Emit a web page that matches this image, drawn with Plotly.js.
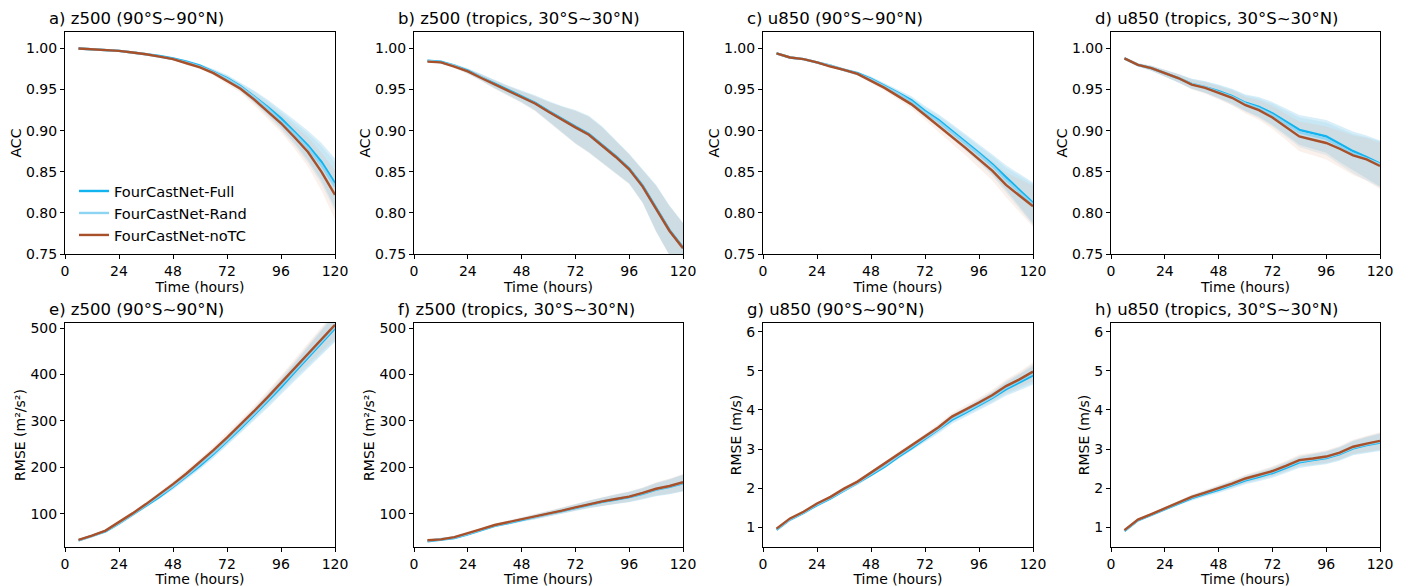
<!DOCTYPE html>
<html>
<head>
<meta charset="utf-8">
<script src="https://cdn.plot.ly/plotly-3.0.1.min.js"></script>
<style>html,body{margin:0;padding:0;background:#fff;}#chart{width:1413px;height:587px;}</style>
</head>
<body>
<div id="chart"></div>
<script>
// ---------- data ----------
const hours = [6,12,18,24,30,36,42,48,54,60,66,72,78,84,90,96,102,108,114,120];
const xTicks = [0,24,48,72,96,120];
const seriesNames = ['FourCastNet-Full','FourCastNet-Rand','FourCastNet-noTC'];

const panelTitles = ['a) z500 (90°S~90°N)','b) z500 (tropics, 30°S~30°N)','c) u850 (90°S~90°N)','d) u850 (tropics, 30°S~30°N)',
                     'e) z500 (90°S~90°N)','f) z500 (tropics, 30°S~30°N)','g) u850 (90°S~90°N)','h) u850 (tropics, 30°S~30°N)'];
const yTitles = ['ACC','ACC','ACC','ACC','RMSE (m²/s²)','RMSE (m²/s²)','RMSE (m/s)','RMSE (m/s)'];

// a) ACC z500 global
const accZ500G_full = [1.000,0.999,0.998,0.997,0.995,0.993,0.991,0.988,0.984,0.979,0.972,0.964,0.954,0.942,0.929,0.915,0.899,0.882,0.862,0.836];
const accZ500G_rand = [1.000,0.999,0.998,0.997,0.995,0.993,0.990,0.987,0.983,0.978,0.971,0.963,0.953,0.941,0.927,0.912,0.896,0.879,0.858,0.832];
const accZ500G_notc = [1.000,0.999,0.998,0.997,0.995,0.993,0.990,0.987,0.982,0.977,0.970,0.961,0.951,0.938,0.924,0.909,0.892,0.874,0.850,0.822];
const accZ500G_spread = [0,0,0,0,0,0,0.001,0.001,0.002,0.002,0.003,0.004,0.005,0.007,0.009,0.011,0.014,0.018,0.023,0.030];
// b) ACC z500 tropics
const accZ500T_full = [0.985,0.984,0.979,0.973,0.965,0.957,0.949,0.942,0.934,0.924,0.914,0.905,0.896,0.883,0.869,0.854,0.833,0.806,0.779,0.758];
const accZ500T_rand = [0.985,0.983,0.979,0.972,0.965,0.956,0.948,0.941,0.933,0.923,0.913,0.904,0.895,0.882,0.868,0.853,0.832,0.805,0.778,0.757];
const accZ500T_notc = [0.984,0.983,0.978,0.972,0.964,0.956,0.948,0.941,0.933,0.923,0.913,0.904,0.895,0.882,0.868,0.853,0.832,0.805,0.778,0.757];
const accZ500T_spread = [0.001,0.001,0.002,0.003,0.004,0.005,0.006,0.007,0.009,0.012,0.016,0.020,0.022,0.022,0.020,0.018,0.020,0.028,0.030,0.030];
// c) ACC u850 global
const accU850G_full = [0.994,0.989,0.987,0.983,0.979,0.974,0.970,0.963,0.955,0.946,0.937,0.924,0.913,0.900,0.887,0.873,0.859,0.843,0.828,0.812];
const accU850G_rand = [0.994,0.989,0.987,0.983,0.979,0.974,0.969,0.962,0.954,0.945,0.935,0.922,0.911,0.898,0.885,0.871,0.857,0.840,0.825,0.810];
const accU850G_notc = [0.994,0.989,0.987,0.983,0.978,0.974,0.969,0.961,0.952,0.942,0.932,0.919,0.906,0.892,0.879,0.865,0.851,0.834,0.821,0.808];
const accU850G_spread = [0,0,0.001,0.001,0.001,0.002,0.002,0.003,0.003,0.004,0.005,0.006,0.007,0.008,0.009,0.010,0.012,0.015,0.020,0.025];
// d) ACC u850 tropics
const accU850T_full = [0.988,0.980,0.976,0.970,0.964,0.957,0.953,0.948,0.942,0.934,0.929,0.921,0.911,0.901,0.897,0.893,0.884,0.875,0.868,0.860];
const accU850T_rand = [0.988,0.980,0.976,0.970,0.964,0.957,0.953,0.947,0.941,0.933,0.927,0.919,0.909,0.898,0.894,0.890,0.881,0.872,0.866,0.859];
const accU850T_notc = [0.988,0.980,0.976,0.970,0.964,0.956,0.952,0.946,0.940,0.931,0.925,0.916,0.905,0.893,0.889,0.885,0.878,0.870,0.865,0.857];
const accU850T_spread = [0.001,0.002,0.003,0.004,0.005,0.006,0.007,0.008,0.009,0.010,0.012,0.014,0.016,0.018,0.019,0.020,0.022,0.024,0.026,0.028];
// e) RMSE z500 global
const rmseZ500G_full = [43,52,62,79,98,117,137,158,180,204,229,256,284,313,342,373,405,437,468,500];
const rmseZ500G_rand = [43,52,63,80,99,119,139,160,183,207,232,259,287,316,346,377,409,441,472,503];
const rmseZ500G_notc = [44,53,64,82,101,121,142,164,187,211,237,264,292,321,351,382,414,446,476,507];
const rmseZ500G_spread = [1,1,2,2,3,4,5,6,7,8,9,10,11,12,14,16,19,22,26,30];
// f) RMSE z500 tropics
const rmseZ500T_full = [41,44,48,56,65,74,80,87,93,100,106,113,120,126,131,136,143,152,158,166];
const rmseZ500T_rand = [42,45,49,57,66,75,81,88,93,100,107,114,121,127,132,137,144,153,159,167];
const rmseZ500T_notc = [43,45,50,58,67,76,82,89,94,101,107,114,121,127,132,137,145,154,160,168];
const rmseZ500T_spread = [1,1,2,2,3,3,4,4,5,5,6,7,8,9,10,11,12,14,16,18];
// g) RMSE u850 global
const rmseU850G_full = [0.94,1.20,1.37,1.57,1.74,1.94,2.12,2.34,2.55,2.80,3.02,3.26,3.49,3.75,3.93,4.12,4.31,4.53,4.71,4.88];
const rmseU850G_rand = [0.95,1.21,1.38,1.59,1.76,1.96,2.14,2.37,2.58,2.83,3.05,3.29,3.52,3.79,3.96,4.15,4.34,4.57,4.74,4.93];
const rmseU850G_notc = [0.97,1.23,1.40,1.61,1.78,1.99,2.17,2.40,2.62,2.87,3.08,3.32,3.56,3.83,4.00,4.19,4.38,4.61,4.78,4.98];
const rmseU850G_spread = [0.01,0.01,0.02,0.02,0.03,0.03,0.04,0.04,0.05,0.06,0.07,0.08,0.09,0.10,0.11,0.12,0.14,0.17,0.20,0.24];
// h) RMSE u850 tropics
const rmseU850T_full = [0.91,1.18,1.32,1.47,1.62,1.75,1.86,1.96,2.08,2.20,2.29,2.39,2.52,2.66,2.72,2.77,2.87,3.02,3.10,3.17];
const rmseU850T_rand = [0.92,1.19,1.33,1.48,1.63,1.77,1.88,1.98,2.10,2.23,2.32,2.42,2.55,2.69,2.74,2.79,2.89,3.04,3.12,3.19];
const rmseU850T_notc = [0.93,1.20,1.34,1.49,1.64,1.78,1.89,2.00,2.12,2.25,2.34,2.44,2.57,2.72,2.76,2.81,2.91,3.06,3.14,3.21];
const rmseU850T_spread = [0.01,0.02,0.03,0.04,0.05,0.06,0.07,0.08,0.09,0.10,0.11,0.12,0.13,0.14,0.15,0.16,0.17,0.18,0.20,0.22];

const yRanges = [[0.75,1.02],[0.75,1.02],[0.75,1.02],[0.75,1.02],[28.6,511],[28.6,511],[0.5,6.22],[0.5,6.22]];
const yTickVals = [[0.75,0.80,0.85,0.90,0.95,1.00],[0.75,0.80,0.85,0.90,0.95,1.00],[0.75,0.80,0.85,0.90,0.95,1.00],[0.75,0.80,0.85,0.90,0.95,1.00],
                   [100,200,300,400,500],[100,200,300,400,500],[1,2,3,4,5,6],[1,2,3,4,5,6]];
const yTickText = [['0.75','0.80','0.85','0.90','0.95','1.00'],['0.75','0.80','0.85','0.90','0.95','1.00'],['0.75','0.80','0.85','0.90','0.95','1.00'],['0.75','0.80','0.85','0.90','0.95','1.00'],
                   ['100','200','300','400','500'],['100','200','300','400','500'],['1','2','3','4','5','6'],['1','2','3','4','5','6']];

// ---------- build ----------
const panels = [
  [accZ500G_full, accZ500G_rand, accZ500G_notc, accZ500G_spread],
  [accZ500T_full, accZ500T_rand, accZ500T_notc, accZ500T_spread],
  [accU850G_full, accU850G_rand, accU850G_notc, accU850G_spread],
  [accU850T_full, accU850T_rand, accU850T_notc, accU850T_spread],
  [rmseZ500G_full, rmseZ500G_rand, rmseZ500G_notc, rmseZ500G_spread],
  [rmseZ500T_full, rmseZ500T_rand, rmseZ500T_notc, rmseZ500T_spread],
  [rmseU850G_full, rmseU850G_rand, rmseU850G_notc, rmseU850G_spread],
  [rmseU850T_full, rmseU850T_rand, rmseU850T_notc, rmseU850T_spread]
];

const W = 1413, H = 587;
const colPx = [[65,335],[414,683],[763,1033],[1111,1380]];
const rowPx = [[32,254],[323,547]];
const lineColors = ['#12b4ef','#8dd3f2','#a8502a'];
const bandColors = ['rgba(90,185,225,0.24)','rgba(150,210,240,0.24)','rgba(230,170,140,0.17)'];
const lineWidths = [2.4,2.4,2.4];

const font = 'DejaVu Sans, sans-serif';
const traces = [];
const layout = {
  width: W, height: H,
  margin: {l:0,r:0,t:0,b:0},
  paper_bgcolor: '#fff', plot_bgcolor: '#fff',
  font: {family: font, color: '#000', size: 14},
  showlegend: true,
  legend: {x: 74/W, y: 1-175/H, xanchor:'left', yanchor:'top', bgcolor:'rgba(0,0,0,0)', font:{size:14.6, family:font}, tracegroupgap:0},
  annotations: []
};

panels.forEach((p, i) => {
  const r = Math.floor(i/4), c = i%4;
  const ax = i === 0 ? '' : String(i+1);
  const xa = 'x'+ax, ya = 'y'+ax;
  const spread = p[3];
  // bands
  for (let s = 0; s < 3; s++) {
    const m = p[s];
    const up = m.map((v,k)=>v+spread[k]);
    const lo = m.map((v,k)=>v-spread[k]);
    traces.push({x: hours.concat(hours.slice().reverse()), y: up.concat(lo.slice().reverse()),
      type:'scatter', mode:'lines', fill:'toself', fillcolor: bandColors[s], line:{width:0, color:'rgba(0,0,0,0)'},
      xaxis: xa, yaxis: ya, showlegend:false, hoverinfo:'skip'});
  }
  // lines
  for (let s = 0; s < 3; s++) {
    traces.push({x: hours, y: p[s], type:'scatter', mode:'lines', name: seriesNames[s],
      line:{color: lineColors[s], width: lineWidths[s]}, xaxis: xa, yaxis: ya, showlegend: i === 0});
  }
  const xd = [colPx[c][0]/W, colPx[c][1]/W];
  const yd = [1-rowPx[r][1]/H, 1-rowPx[r][0]/H];
  layout['xaxis'+ax] = {domain: xd, anchor: ya, range:[0,120], tickvals: xTicks, ticktext: xTicks.map(String),
    showline:true, mirror:true, linecolor:'#000', linewidth:1, ticks:'outside', ticklen:4, tickcolor:'#000',
    showgrid:false, zeroline:false, tickfont:{size:14}, title:{text:'Time (hours)', font:{size:14}, standoff:0}};
  layout['yaxis'+ax] = {domain: yd, anchor: xa, range: yRanges[i], tickvals: yTickVals[i], ticktext: yTickText[i],
    showline:true, mirror:true, linecolor:'#000', linewidth:1, ticks:'outside', ticklen:4, tickcolor:'#000',
    showgrid:false, zeroline:false, tickfont:{size:14}, title:{text: yTitles[i], font:{size:14}, standoff:1}};
  layout.annotations.push({text: panelTitles[i], xref:'paper', yref:'paper', x: (colPx[c][0]-18)/W, y: 1-(rowPx[r][0]-14)/H,
    xanchor:'left', yanchor:'middle', showarrow:false, font:{size:16.5, family:font}});
});

Plotly.newPlot('chart', traces, layout, {displayModeBar:false, staticPlot:true});
</script>
</body>
</html>
